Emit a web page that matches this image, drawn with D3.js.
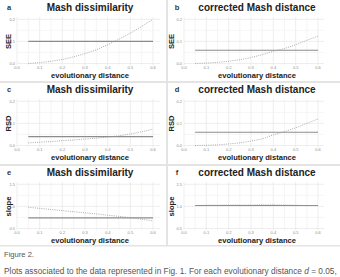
<!DOCTYPE html>
<html><head><meta charset="utf-8">
<script src="https://cdn.jsdelivr.net/npm/d3@7"></script>
<style>
html,body{margin:0;padding:0;background:#fff;}
svg{display:block;font-family:"Liberation Sans",Arial,Helvetica,sans-serif;}
</style></head>
<body>
<script>
// ---- data ----
const distances = [0.05,0.10,0.15,0.20,0.25,0.30,0.35,0.40,0.45,0.50,0.55,0.60];
const seeMash   = [0.000,0.004,0.010,0.018,0.030,0.045,0.062,0.085,0.110,0.137,0.168,0.200];
const seeCorr   = [0.000,0.002,0.005,0.010,0.017,0.027,0.040,0.055,0.068,0.085,0.105,0.124];
const rsdMash   = [0.012,0.015,0.018,0.022,0.025,0.029,0.033,0.038,0.044,0.052,0.062,0.074];
const rsdCorr   = [0.000,0.001,0.003,0.007,0.012,0.020,0.030,0.048,0.063,0.080,0.100,0.120];
const slopeMash = [0.980,0.955,0.930,0.905,0.880,0.855,0.830,0.800,0.775,0.745,0.710,0.670];
const slopeCorr = [1.020,1.025,1.025,1.030,1.030,1.030,1.035,1.035,1.030,1.025,1.020,1.020];
const refLines  = [0.10, 0.06, 0.04, 0.06, 0.74, 1.02];
const panelLetters = ["a","b","c","d","e","f"];
const panelTitles  = ["Mash dissimilarity","corrected Mash distance","Mash dissimilarity","corrected Mash distance","Mash dissimilarity","corrected Mash distance"];
const yLabels = ["SEE","SEE","RSD","RSD","slope","slope"];
const xTicks = [0.0,0.1,0.2,0.3,0.4,0.5,0.6];
const yTicksErr = [0.0,0.1,0.2];
const yTicksSlope = [0.5,1.0,1.5];
const xLabel = "evolutionary distance";
const captionTitle = "Figure 2.";

const series = [seeMash, seeCorr, rsdMash, rsdCorr, slopeMash, slopeCorr];

const W = 340, H = 277;
const svg = d3.select("body").append("svg").attr("width", W).attr("height", H);

// background & gutters
svg.append("rect").attr("x",0).attr("y",0).attr("width",W).attr("height",H).attr("fill","#fff");
const gut = svg.append("g").attr("fill","#e4e4e4");
gut.append("rect").attr("x",166).attr("y",0).attr("width",2).attr("height",246);
gut.append("rect").attr("x",0).attr("y",81).attr("width",W).attr("height",2);
gut.append("rect").attr("x",0).attr("y",164).attr("width",W).attr("height",2);
gut.append("rect").attr("x",0).attr("y",245).attr("width",W).attr("height",1.5);

const rowTop = [0, 82, 165];
const colX = [{x0:17, x6:153, right:160, yl:8, letter:9, title:90},
              {x0:184, x6:318, right:324, yl:171, letter:177, title:257}];

series.forEach((vals, i) => {
  const col = colX[i % 2];
  const top = rowTop[Math.floor(i / 2)];
  const isSlope = i >= 4;
  const yDom = isSlope ? [0.5, 1.5] : [0.0, 0.2];
  const yT = isSlope ? yTicksSlope : yTicksErr;
  const x = d3.scaleLinear().domain([0, 0.6]).range([col.x0, col.x6]);
  const y = d3.scaleLinear().domain(yDom).range([top + 63.5, top + 19.3]);
  const g = svg.append("g");

  const left = col.x0, right = col.right, ptop = top + 17, pbot = top + 65.5;
  g.append("rect").attr("x",left).attr("y",ptop).attr("width",right-left).attr("height",pbot-ptop)
    .attr("fill","#fff");
  const xg = d3.range(0, 13).map(k => k * 0.05);
  g.selectAll(null).data(xg).enter().append("line")
    .attr("x1", d => x(d)).attr("x2", d => x(d)).attr("y1", ptop).attr("y2", pbot)
    .attr("stroke", (d,k) => k % 2 ? "#f1f1f1" : "#e6e6e6").attr("stroke-width", 0.7);
  const yStep = (yDom[1]-yDom[0]) / 4;
  const yg = d3.range(0, 5).map(k => yDom[0] + k * yStep);
  g.selectAll(null).data(yg).enter().append("line")
    .attr("x1", left).attr("x2", right).attr("y1", d => y(d)).attr("y2", d => y(d))
    .attr("stroke", (d,k) => k % 2 ? "#f1f1f1" : "#e6e6e6").attr("stroke-width", 0.7);

  g.selectAll(null).data(xTicks).enter().append("text")
    .attr("x", d => x(d)).attr("y", top + 68.5).attr("text-anchor","middle")
    .attr("font-size", 4).attr("fill","#8a8a8a").text(d => d3.format(".1f")(d));
  g.selectAll(null).data(yT).enter().append("text")
    .attr("x", col.x0 - 2).attr("y", d => y(d) + 1.4).attr("text-anchor","end")
    .attr("font-size", 4).attr("fill","#8a8a8a").text(d => d3.format(".1f")(d));

  g.append("line").attr("x1", x(distances[0])).attr("x2", x(distances[distances.length-1]))
    .attr("y1", y(refLines[i])).attr("y2", y(refLines[i]))
    .attr("stroke","#8c8c8c").attr("stroke-width",1.1);

  const line = d3.line().x((d,k) => x(distances[k])).y(d => y(d));
  g.append("path").datum(vals).attr("d", line).attr("fill","none")
    .attr("stroke","#9a9a9a").attr("stroke-width",0.9).attr("stroke-dasharray","0.9,1.3");

  g.append("text").attr("x", col.letter).attr("y", top + 10).attr("text-anchor","middle")
    .attr("font-size", 7.5).attr("font-weight","bold").attr("fill","#333").text(panelLetters[i]);
  g.append("text").attr("x", col.title).attr("y", top + 10.5).attr("text-anchor","middle")
    .attr("font-size", 10).attr("font-weight","bold").attr("fill","#222").text(panelTitles[i]);
  g.append("text").attr("x", col.title).attr("y", top + 77.5).attr("text-anchor","middle")
    .attr("font-size", 7.6).attr("font-weight","bold").attr("fill","#222").text(xLabel);
  const cy = top + 41.5;
  g.append("text").attr("transform", `translate(${col.yl + 2.5},${cy}) rotate(-90)`)
    .attr("text-anchor","middle").attr("font-size", 7.6).attr("font-weight","bold")
    .attr("fill","#222").text(yLabels[i]);
});

// caption
svg.append("text").attr("x", 4).attr("y", 257).attr("font-size", 7.6).attr("fill","#555").text(captionTitle);
const cap = svg.append("text").attr("x", 4).attr("y", 274).attr("font-size", 8.3).attr("fill","#555");
cap.append("tspan").text("Plots associated to the data represented in Fig. 1. For each evolutionary distance ");
cap.append("tspan").attr("font-style","italic").text("d");
cap.append("tspan").text(" = 0.05,");
</script>
</body></html>
